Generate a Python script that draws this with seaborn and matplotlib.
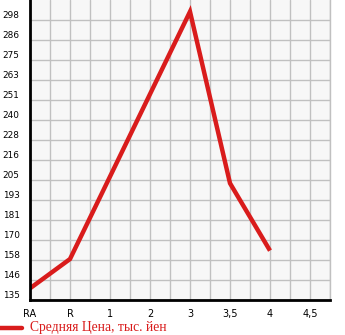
import numpy as np
import pandas as pd
import matplotlib
matplotlib.use("Agg")
import matplotlib.pyplot as plt
import seaborn as sns
from matplotlib.ticker import MultipleLocator

categories = ["RA", "R", "1", "2", "3", "3,5", "4", "4,5"]
prices = [141.8, 158.9, np.nan, np.nan, 303.2, 203.1, 163.8, np.nan]
y_ticks = [135 + k * 35 / 3 for k in range(15)]
y_labels = ["135", "146", "158", "170", "181", "193", "205", "216", "228",
            "240", "251", "263", "275", "286", "298"]
legend_label = "Средняя Цена, тыс. йен"

sns.set_style("white")
plt.rcParams['font.family'] = ['DejaVu Sans']

df = pd.DataFrame({"pos": np.arange(len(categories)), "price": prices}).dropna()

fig = plt.figure(figsize=(3.45, 3.35), dpi=100)
ax = fig.add_axes([30 / 345, 35 / 335, 300 / 345, 300 / 335])
ax.set_facecolor("#f7f7f7")

sns.lineplot(data=df, x="pos", y="price", ax=ax, color="#d91c1c", linewidth=3.2,
             solid_capstyle="butt", solid_joinstyle="miter")

ax.set_xlim(0, 7.5)
ax.set_ylim(135, 310)
ax.set_xticks(range(len(categories)))
ax.set_xticklabels(categories)
ax.xaxis.set_minor_locator(MultipleLocator(0.5))
ax.set_yticks(y_ticks)
ax.set_yticklabels(y_labels)
ax.grid(True, which="both", color="#c0c0c0", linewidth=1.0)
ax.set_axisbelow(True)
ax.set_xlabel("")
ax.set_ylabel("")

ax.spines["top"].set_visible(False)
ax.spines["right"].set_color("#c0c0c0")
ax.spines["right"].set_linewidth(1.0)
ax.spines["left"].set_color("black")
ax.spines["left"].set_linewidth(2)
ax.spines["bottom"].set_color("black")
ax.spines["bottom"].set_linewidth(2)

ax.tick_params(axis="both", which="both", direction="out", length=3.5, width=1,
               color="black", labelcolor="black")
ax.tick_params(axis="y", pad=4, labelsize=6.4)
ax.tick_params(axis="x", pad=3, labelsize=7)
for lab in ax.get_yticklabels():
    lab.set_verticalalignment("bottom")

fig.add_artist(plt.Line2D([0, 22 / 345], [1 - 328 / 335, 1 - 328 / 335],
                          color="#d91c1c", linewidth=3.2, transform=fig.transFigure))
fig.text(30 / 345, 1 - 328 / 335, legend_label, color="#d91c1c", fontsize=9.8,
         family=["Liberation Serif"], va="center", ha="left")

fig.savefig("out.png", dpi=100)
